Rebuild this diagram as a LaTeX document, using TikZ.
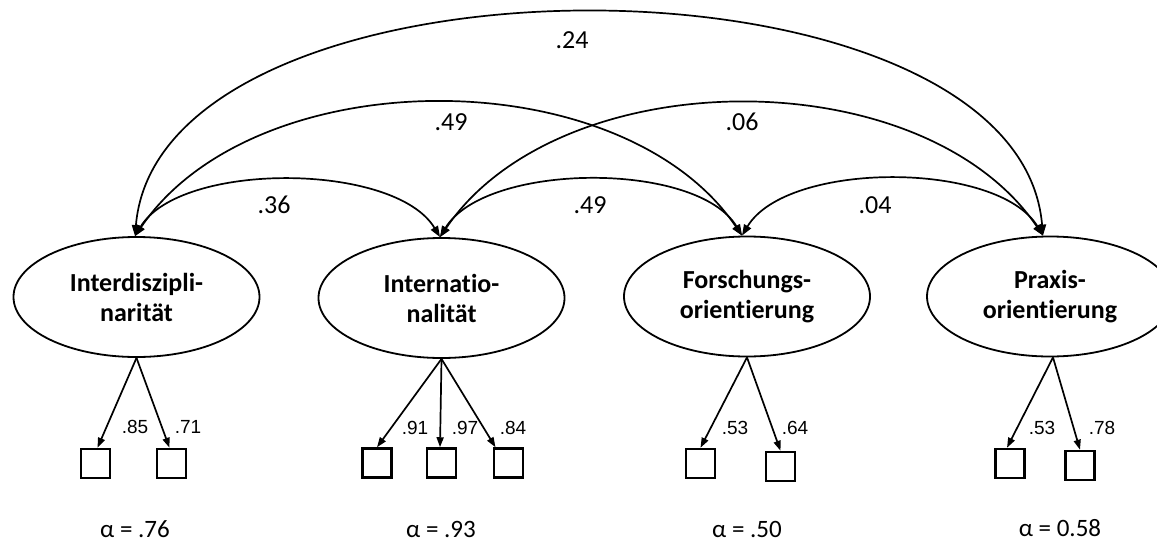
\documentclass[tikz,border=0pt]{standalone}
\usepackage{fontspec}
\setmainfont{Carlito}[Ligatures=CommonOff]
\newfontfamily\arialfont{Liberation Sans}
\usetikzlibrary{shapes.geometric,arrows.meta}
\begin{document}
\begin{tikzpicture}[x=1pt,y=-1pt,
  factor/.style={ellipse,draw,line width=1.8pt,minimum width=246pt,minimum height=120pt,
    inner sep=0pt,align=center,font=\fontsize{26}{30}\selectfont\bfseries},
  indicator/.style={draw,line width=2.5pt,minimum size=29pt,inner sep=0pt},
  cov/.style={line width=1.7pt,{Triangle[length=11pt,width=8pt]}-{Triangle[length=11pt,width=8pt]}},
  load/.style={line width=1.7pt,-{Triangle[length=10pt,width=7pt]}},
  covlbl/.style={font=\fontsize{26}{30}\selectfont,inner sep=0pt},
  loadlbl/.style={font=\arialfont\fontsize{19}{21}\selectfont,inner sep=0pt},
  reliab/.style={font=\fontsize{25}{28}\selectfont,inner sep=0pt}
]
\useasboundingbox (0,0) rectangle (1157,543);

% latent factors
\node[factor] (e1) at (136.5,297) {Interdiszipli-\\narität};
\node[factor] (e2) at (441.5,298) {Internatio-\\nalität};
\node[factor] (e3) at (747,296.5) {Forschungs-\\orientierung};
\node[factor] (e4) at (1050,296.5) {Praxis-\\orientierung};

% end points of the covariance arcs
\coordinate (t1) at ([xshift=-1.5pt]e1.north);
\coordinate (t2) at ([xshift=-1.5pt]e2.north);
\coordinate (t3) at ([xshift=-5pt]e3.north);
\coordinate (t4) at ([xshift=-7pt]e4.north);

% covariances
\draw[cov] (t1) .. controls +(45,-75) and +(-45,-75) .. (t2);
\draw[cov] (t2) .. controls +(45,-75) and +(-45,-75) .. (t3);
\draw[cov] (t3) .. controls +(45,-75) and +(-45,-75) .. (t4);
\draw[cov] (t1) .. controls +(120,-177) and +(-120,-177) .. (t3);
\draw[cov] (t2) .. controls +(120,-177) and +(-120,-177) .. (t4);
\draw[cov] (t1) .. controls +(25,-297) and +(-25,-297) .. (t4);

\node[covlbl] (c14) at (572,40) {.24};
\node[covlbl] (c13) at (451,122) {.49};
\node[covlbl] (c24) at (742,122) {.06};
\node[covlbl] (c12) at (274,205) {.36};
\node[covlbl] (c23) at (590,205) {.49};
\node[covlbl] (c34) at (875,205) {.04};

% indicators
\node[indicator] (i11) at (95.5,463.5) {};
\node[indicator] (i12) at (171.5,463.5) {};
\node[indicator] (i21) at (377,463) {};
\node[indicator] (i22) at (441.5,463) {};
\node[indicator] (i23) at (508.5,463) {};
\node[indicator] (i31) at (700.5,463.5) {};
\node[indicator] (i32) at (780.5,466.5) {};
\node[indicator] (i41) at (1010,463.5) {};
\node[indicator] (i42) at (1080,465.5) {};

% loadings
\draw[load] (e1.south) -- ([xshift=2pt]i11.north);
\draw[load] (e1.south) -- ([xshift=-2pt]i12.north);
\draw[load] (e2.south) -- (i21.north);
\draw[load] (e2.south) -- ([xshift=-1.5pt]i22.north);
\draw[load] (e2.south) -- ([xshift=-13pt]i23.north);
\draw[load] (e3.south) -- (i31.north);
\draw[load] (e3.south) -- (i32.north);
\draw[load] ([xshift=3pt]e4.south) -- ([xshift=-3pt]i41.north);
\draw[load] ([xshift=3pt]e4.south) -- (i42.north);

\node[loadlbl] (l11) at (135,427) {.85};
\node[loadlbl] (l12) at (188,427) {.71};
\node[loadlbl] (l21) at (415,428) {.91};
\node[loadlbl] (l22) at (465,428) {.97};
\node[loadlbl] (l23) at (513,428) {.84};
\node[loadlbl] (l31) at (735,428) {.53};
\node[loadlbl] (l32) at (795,428) {.64};
\node[loadlbl] (l41) at (1042,428) {.53};
\node[loadlbl] (l42) at (1102,428) {.78};

% reliabilities
\node[reliab] (a1) at (135,529) {α = .76};
\node[reliab] (a2) at (441,529) {α = .93};
\node[reliab] (a3) at (747,529) {α = .50};
\node[reliab] (a4) at (1060,528) {α = 0.58};
\end{tikzpicture}
\end{document}
